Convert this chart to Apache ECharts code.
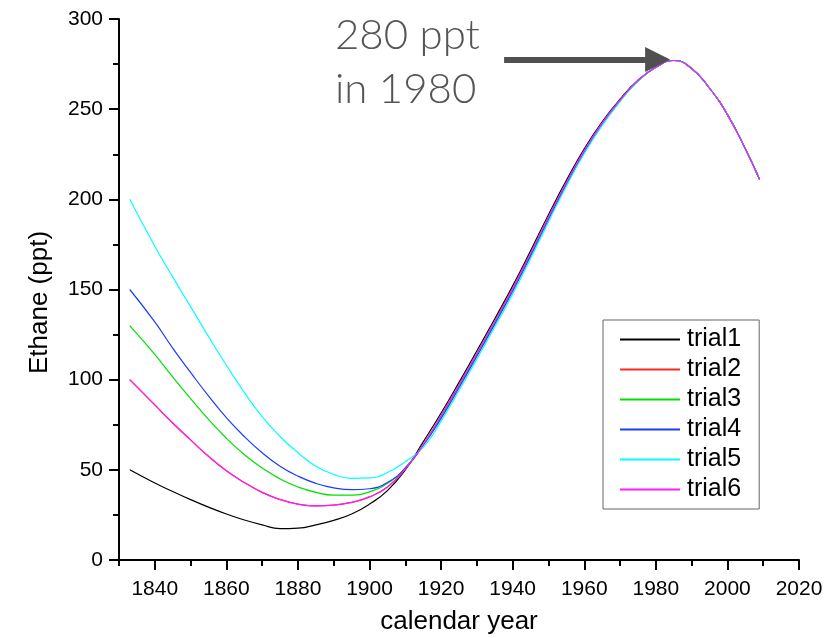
<!DOCTYPE html>
<html>
<head>
<meta charset="utf-8">
<script src="https://cdn.jsdelivr.net/npm/echarts@6/dist/echarts.min.js"></script>
<style>html,body{margin:0;padding:0;background:#fff;}#c{width:832px;height:638px;}</style>
</head>
<body>
<div id="c"></div>
<script>
var years = [1833,1840,1845,1850,1855,1860,1865,1870,1875,1880,1885,1890,1895,1900,1905,1910,1915,1920,1925,1930,1935,1940,1945,1950,1955,1960,1965,1970,1975,1980,1985,1990,1995,2000,2005,2009];
var trial1 = [50,42.7,38,33.5,29.3,25.5,22.2,19.5,17.4,17.7,19.5,22,25.5,31,38.5,50,65.5,81.5,98.5,116,133.8,152,171.5,191.5,210.5,228,243,255.5,266,273.2,277,272.5,261.6,247,228,211];
var trial2 = [100,86,76,66.6,57.5,49.5,43,37.5,33.5,31,30,30.4,32,35,40.5,50.5,64,80,97,114.5,132.3,150.5,170,190,209.3,227,242.3,255,265.8,273.2,277,272.5,261.6,247,228,211];
var trial3 = [130,114,101.5,89.5,78,67.5,58.5,51,45,40.5,37.5,36,36,37.8,42.5,51,64,79.5,96.5,114,131.8,150,169.5,189.5,209,226.7,242,254.8,265.7,273.2,277,272.5,261.6,247,228,211];
var trial4 = [150,132,117.5,104,91,79,68.5,59.5,52,46.5,42.5,40,39,39.5,43,51,63.5,78.5,95.5,113,130.8,149,168.5,188.7,208.3,226.2,241.6,254.6,265.6,273.2,277,272.5,261.6,247,228,211];
var trial5 = [200,174,157,140.5,124,108,93,79.5,68.5,59.5,52,47.5,45.3,45.5,48.5,54.5,62.5,77,94,111.5,129.3,147.5,167.2,187.5,207.3,225.4,241,254.2,265.5,273.2,277,272.5,261.6,247,228,211];
var trial6 = [100,86,76,66.6,57.5,49.5,43,37.5,33.5,31,30,30.4,32,35,40.5,50.5,64,80,97,114.5,132.3,150.5,170,190,209.3,227,242.3,255,265.8,273.2,277,272.5,261.6,247,228,211];
var seriesNames = ['trial1','trial2','trial3','trial4','trial5','trial6'];
var seriesValues = [trial1, trial2, trial3, trial4, trial5, trial6];
var seriesColors = ['#000000','#ff2a1a','#00e000','#1a3cff','#00ffff','#ff1aff'];
var xTickLabels = [1840,1860,1880,1900,1920,1940,1960,1980,2000,2020];
var annotationLines = ['280 ppt', 'in 1980'];
var arrowFrom = [1937.6, 277.5];
var arrowTo = [1980.5, 277.5];

var chart = echarts.init(document.getElementById('c'), null, {renderer: 'canvas'});

var series = seriesNames.map(function (name, i) {
  var s = {
    name: name,
    type: 'line',
    xAxisIndex: 0,
    smooth: 0.5,
    symbol: 'none',
    showSymbol: false,
    lineStyle: {color: seriesColors[i], width: 1.2},
    itemStyle: {color: seriesColors[i]},
    data: years.map(function (y, j) { return [y, seriesValues[i][j]]; })
  };
  if (i === 0) {
    s.markLine = {
      silent: true,
      animation: false,
      symbol: ['none', 'triangle'],
      symbolSize: 25,
      label: {show: false},
      lineStyle: {color: '#505050', width: 6, type: 'solid'},
      emphasis: {disabled: true},
      data: [[{coord: arrowFrom}, {coord: arrowTo}]]
    };
  }
  return s;
});

var labelFont = "'Liberation Sans', Arial, sans-serif";

chart.setOption({
  animation: false,
  backgroundColor: '#ffffff',
  grid: {left: 119, right: 33, top: 19, bottom: 78, outerBoundsMode: 'none'},
  legend: {
    orient: 'vertical',
    left: 603,
    top: 320,
    selectedMode: false,
    backgroundColor: '#ffffff',
    borderColor: '#666666',
    borderWidth: 1,
    padding: [7, 18, 7, 16],
    itemWidth: 60,
    itemHeight: 14,
    itemGap: 5,
    itemStyle: {opacity: 0},
    textStyle: {fontFamily: labelFont, fontSize: 25, lineHeight: 22, color: '#000', padding: [0, 0, 0, 2]},
    data: seriesNames
  },
  xAxis: [{
    type: 'value',
    min: 1830,
    max: 2020,
    name: 'calendar year',
    nameLocation: 'middle',
    nameGap: 49,
    nameTextStyle: {fontFamily: labelFont, fontSize: 26, color: '#000'},
    axisLine: {show: true, onZero: false, lineStyle: {color: '#000', width: 2}},
    axisTick: {show: true, inside: false, length: 10, lineStyle: {color: '#000', width: 2}, customValues: xTickLabels},
    axisLabel: {fontFamily: labelFont, fontSize: 21, color: '#000', margin: 19, customValues: xTickLabels,
      formatter: function (v) { return String(v); }},
    splitLine: {show: false}
  }, {
    type: 'value',
    min: 1830,
    max: 2020,
    interval: 10,
    position: 'bottom',
    axisLine: {show: false},
    axisTick: {show: true, inside: false, length: 6, lineStyle: {color: '#000', width: 2}},
    axisLabel: {show: false},
    splitLine: {show: false}
  }],
  yAxis: {
    type: 'value',
    min: 0,
    max: 300,
    interval: 50,
    name: 'Ethane (ppt)',
    nameLocation: 'middle',
    nameGap: 66,
    nameRotate: 90,
    nameTextStyle: {fontFamily: labelFont, fontSize: 26, color: '#000', padding: [0, 26, 0, 0]},
    axisLine: {show: true, lineStyle: {color: '#000', width: 2}},
    axisTick: {show: true, inside: false, length: 10, lineStyle: {color: '#000', width: 2}},
    minorTick: {show: true, splitNumber: 2, length: 6, lineStyle: {color: '#000', width: 2}},
    axisLabel: {fontFamily: labelFont, fontSize: 21, color: '#000', margin: 16},
    splitLine: {show: false}
  },
  graphic: [{
    type: 'text',
    left: 335,
    top: 8,
    style: {
      text: annotationLines.join('\n'),
      font: '300 42px Lato, "Open Sans", sans-serif',
      fill: '#555555',
      align: 'center',
      lineHeight: 54
    }
  }],
  series: series
});
</script>
</body>
</html>
